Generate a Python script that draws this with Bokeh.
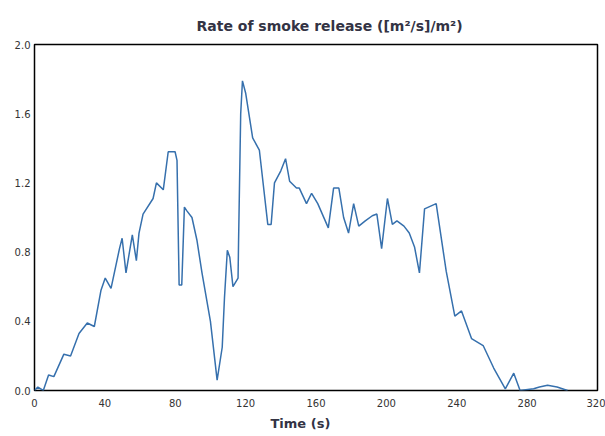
from bokeh.plotting import figure
from bokeh.models import Range1d, FixedTicker, NumeralTickFormatter, Title
from bokeh.embed import file_html
from bokeh.resources import INLINE

# time (s) and rate of smoke release ((m2/s)/m2)
time_s = [0, 1.9, 5, 8, 11, 16.7, 20.5, 25.3, 30, 34,
          37.8, 40.2, 43.5, 48.3, 49.8, 52, 55.6, 57.9, 59.4, 61.7,
          67.4, 69.3, 73.2, 76, 79.9, 81, 82.2, 83.7, 85.2, 86.5,
          89.5, 92.3, 95.2, 100, 103.8, 106.7, 108, 109.6, 111, 112.8,
          115.7, 116, 117.2, 118.2, 120, 124, 127.8, 132.6, 134.5, 136.4,
          140, 142.7, 145, 148.9, 150.5, 154.6, 157.5, 161, 167, 170,
          173, 175.7, 178.5, 181.4, 184.3, 188, 192, 194.6, 197.3, 200.6,
          203.4, 206, 210, 213, 216, 218.8, 221.7, 228.3, 234, 238.9,
          242.7, 248.4, 255, 261, 267.6, 272.4, 276, 283.7, 287, 291.6,
          297, 303]
smoke_rate = [0, 0.02, 0, 0.09, 0.08, 0.21, 0.2, 0.33, 0.39, 0.37,
              0.58, 0.65, 0.59, 0.82, 0.88, 0.68, 0.9, 0.75, 0.91, 1.02,
              1.11, 1.2, 1.16, 1.38, 1.38, 1.33, 0.61, 0.61, 1.06, 1.04,
              1.0, 0.87, 0.68, 0.4, 0.06, 0.25, 0.54, 0.81, 0.77, 0.6,
              0.65, 0.87, 1.6, 1.79, 1.72, 1.46, 1.39, 0.96, 0.96, 1.2,
              1.27, 1.34, 1.21, 1.17, 1.17, 1.08, 1.14, 1.08, 0.94, 1.17,
              1.17, 1.0, 0.91, 1.08, 0.95, 0.98, 1.01, 1.02, 0.82, 1.11,
              0.96, 0.98, 0.95, 0.91, 0.83, 0.68, 1.05, 1.08, 0.69, 0.43,
              0.46, 0.30, 0.26, 0.13, 0.01, 0.1, 0.0, 0.01, 0.02, 0.03,
              0.02, 0.0]

x_ticks = [0, 40, 80, 120, 160, 200, 240, 280, 320]
y_ticks = [0.0, 0.4, 0.8, 1.2, 1.6, 2.0]

p = figure(width=605, height=436,
           x_range=Range1d(0, 320), y_range=Range1d(0, 2.0),
           toolbar_location=None, output_backend='svg',
           min_border_left=34, min_border_right=8,
           min_border_top=44, min_border_bottom=46)

# title sits a bit right of the frame centre in the original
head = Title(text='Rate of smoke release ([m\u00b2/s]/m\u00b2)', align='left',
             offset=162, standoff=21,
             text_font='DejaVu Sans', text_font_size='14px',
             text_font_style='bold', text_color='#333344')
p.add_layout(head, 'above')

p.xgrid.visible = False
p.ygrid.visible = False
p.outline_line_color = 'black'
p.outline_line_width = 1.5

p.xaxis.ticker = FixedTicker(ticks=x_ticks)
p.yaxis.ticker = FixedTicker(ticks=y_ticks)
p.yaxis.formatter = NumeralTickFormatter(format='0.0')
for ax in (p.xaxis, p.yaxis):
    ax.axis_line_color = None
    ax.major_tick_line_color = None
    ax.minor_tick_line_color = None
    ax.major_tick_out = 0
    ax.major_label_text_font = 'DejaVu Sans'
    ax.major_label_text_font_size = '10px'
    ax.major_label_text_color = '#333333'
p.xaxis.major_label_standoff = 8
p.yaxis.major_label_standoff = 4

xlab = Title(text='Time (s)', align='left', offset=236, standoff=8,
             text_font='DejaVu Sans', text_font_size='13px',
             text_font_style='bold', text_color='#333344')
p.add_layout(xlab, 'below')

p.line(time_s, smoke_rate, line_color='#3670ad', line_width=1.5)

open('out.html', 'w').write(file_html(p, INLINE))
